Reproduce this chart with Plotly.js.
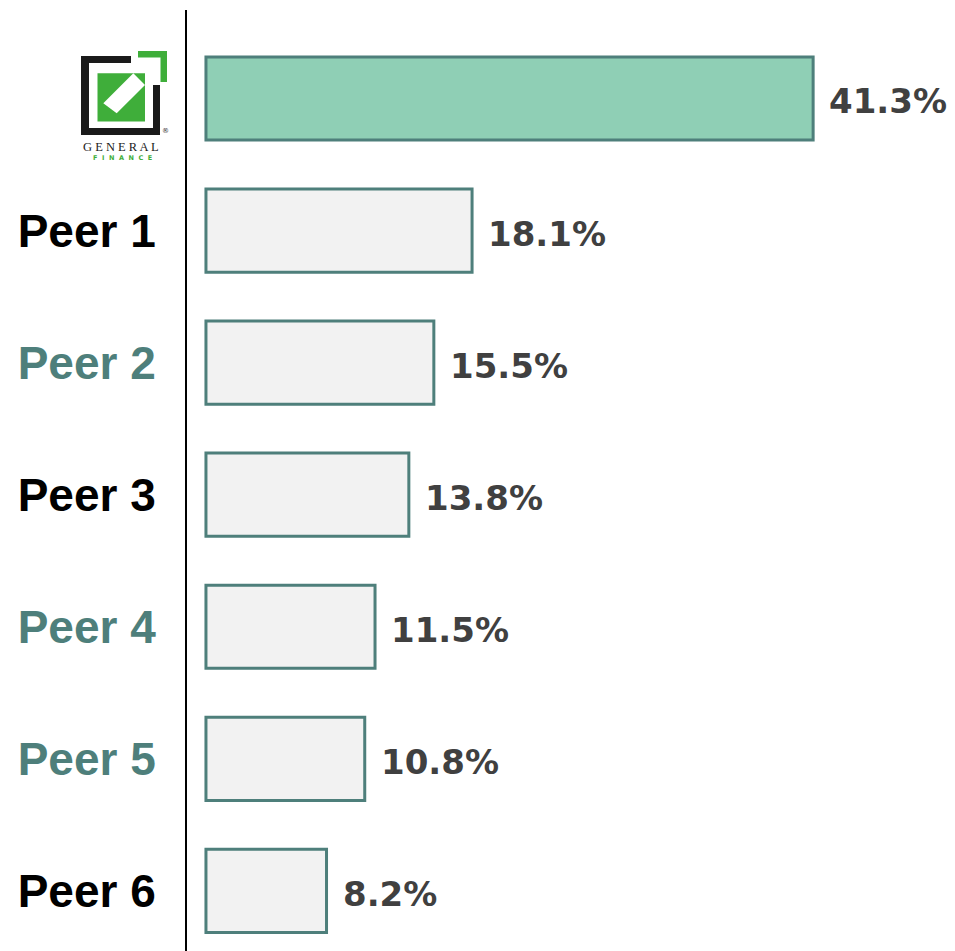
<!DOCTYPE html>
<html>
<head>
<meta charset="utf-8">
<script src="https://cdn.plot.ly/plotly-3.0.1.min.js"></script>
<style>html,body{margin:0;padding:0;background:#fff;}#chart{width:955px;height:951px;}</style>
</head>
<body>
<div id="chart"></div>
<script>
// ---- data ----
const categories = ["General Finance", "Peer 1", "Peer 2", "Peer 3", "Peer 4", "Peer 5", "Peer 6"];
const values = [41.3, 18.1, 15.5, 13.8, 11.5, 10.8, 8.2];
const tickLabels = ["", "Peer 1", "Peer 2", "Peer 3", "Peer 4", "Peer 5", "Peer 6"];
const labelColors = ["#000000", "#000000", "#4e7f7b", "#000000", "#4e7f7b", "#4e7f7b", "#000000"];
const barFills = ["#8fcfb5", "#f2f2f2", "#f2f2f2", "#f2f2f2", "#f2f2f2", "#f2f2f2", "#f2f2f2"];

const W = 955, H = 951, ML = 187, MR = 0, MT = 10, MB = 0;
const PW = W - ML - MR, PH = H - MT - MB;
const px = x => (x - ML) / PW;
const py = y => 1 - (y - MT) / PH;

const teal = "#4e7f7b";
const green = "#3fae3a";

const trace = {
  type: "bar",
  orientation: "h",
  y: categories,
  x: values,
  width: 0.63,
  marker: { color: barFills, line: { color: teal, width: 3 } },
  hoverinfo: "skip"
};

const annotations = values.map((v, i) => ({
  x: v, y: categories[i], xref: "x", yref: "y",
  text: v.toFixed(1) + "%", showarrow: false,
  xanchor: "left", yanchor: "middle", xshift: 14, yshift: -3,
  font: { family: "DejaVu Sans", size: 34, color: "#404040", weight: 700 }
}));

// logo text
annotations.push({
  x: px(121), y: py(147), xref: "paper", yref: "paper", showarrow: false,
  text: "G E N E R A L", xanchor: "center", yanchor: "middle",
  font: { family: "Liberation Serif", size: 12.5, color: "#222" }
});
annotations.push({
  x: px(122), y: py(157.5), xref: "paper", yref: "paper", showarrow: false,
  text: "<b>F  I  N  A  N  C  E</b>", xanchor: "center", yanchor: "middle",
  font: { family: "DejaVu Sans", size: 6.5, color: green }
});
annotations.push({
  x: px(165), y: py(131), xref: "paper", yref: "paper", showarrow: false,
  text: "®", xanchor: "center", yanchor: "middle",
  font: { family: "DejaVu Sans", size: 7, color: "#333" }
});

function rect(x0, y0, x1, y1, color) {
  return { type: "rect", xref: "paper", yref: "paper", layer: "above",
    x0: px(x0), x1: px(x1), y0: py(y0), y1: py(y1),
    fillcolor: color, line: { width: 0 } };
}
const shapes = [
  // black open frame
  rect(81, 56, 131, 63, "#1a1a1a"),
  rect(81, 56, 89, 135, "#1a1a1a"),
  rect(81, 128, 160, 135, "#1a1a1a"),
  rect(153, 85, 160, 135, "#1a1a1a"),
  // green corner bracket
  rect(138, 51, 167, 57.5, green),
  rect(160.5, 51, 167, 82, green),
  // green square
  rect(97.5, 73.3, 145, 121.5, green),
  // white diagonal band
  { type: "path", xref: "paper", yref: "paper", layer: "above",
    path: `M ${px(103.3)} ${py(103.3)} L ${px(133.3)} ${py(73.3)} L ${px(145)} ${py(85)} L ${px(116.7)} ${py(113.3)} Z`,
    fillcolor: "#ffffff", line: { width: 0 } }
];

const layout = {
  width: W, height: H,
  margin: { l: ML, r: MR, t: MT, b: MB, pad: 0 },
  paper_bgcolor: "#ffffff", plot_bgcolor: "#ffffff",
  showlegend: false,
  bargap: 0.37,
  xaxis: { range: [-1.29, 50.95], visible: false, showgrid: false, zeroline: false, fixedrange: true },
  yaxis: {
    type: "category",
    range: [6.455, -0.67],
    tickvals: categories,
    ticktext: tickLabels.map((t, i) => t ? `<span style="color:${labelColors[i]}">${t}</span>` : ""),
    showline: true, linecolor: "#000000", linewidth: 2,
    showgrid: false, zeroline: false, ticks: "",
    ticklabelstandoff: 20,
    tickfont: { family: "Liberation Sans", size: 46, color: "#000000", weight: 700 },
    fixedrange: true
  },
  annotations: annotations,
  shapes: shapes
};

Plotly.newPlot("chart", [trace], layout, { displayModeBar: false, staticPlot: true });
</script>
</body>
</html>
